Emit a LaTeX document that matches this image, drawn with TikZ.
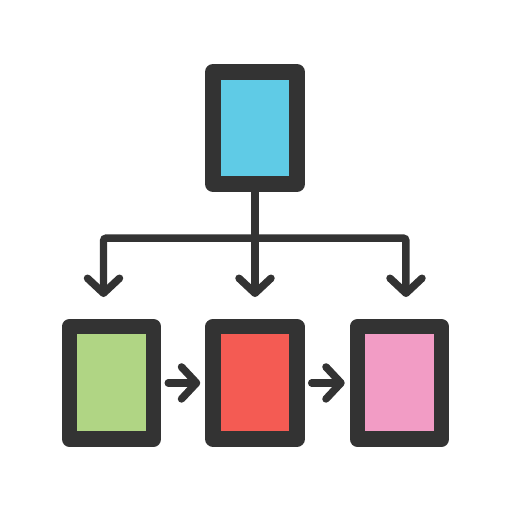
\documentclass[tikz,border=0pt]{standalone}
\usetikzlibrary{positioning,arrows.meta}

\definecolor{framegray}{HTML}{333333}
\definecolor{tileblue}{HTML}{5FCBE6}
\definecolor{tilegreen}{HTML}{B0D584}
\definecolor{tilered}{HTML}{F45B53}
\definecolor{tilepink}{HTML}{F29CC5}

\begin{document}
\begin{tikzpicture}[x=0.02cm,y=-0.02cm]
  \useasboundingbox (0,0) rectangle (512,512);
  \begin{scope}[
    every node/.style={
      rectangle,
      draw=framegray,
      line width=0.31cm,
      line join=round,
      minimum width=1.68cm,
      minimum height=2.25cm,
      inner sep=0pt,
    },
    ]
    % parent
    \node [fill=tileblue] (parent) at (255,128) {};

    % children
    \node [fill=tilered,below=2.54cm of parent] (childB) {};
    \node [fill=tilegreen,left=0.88cm of childB] (childA) {};
    \node [fill=tilepink,right=0.9cm of childB] (childC) {};
  \end{scope}
  \begin{scope}[
    flowline/.style={
      draw=framegray,
      line width=0.15cm,
      line cap=round,
      rounded corners=0.06cm,
      -{Straight Barb[length=0.3cm,width=0.64cm,round]},
    },
    ]
    % fork
    \coordinate (fork) at (255,238);
    \coordinate (dropA) at (103.5,297);
    \coordinate (dropB) at (255,297);
    \coordinate (dropC) at (406,297);
    \draw [flowline] (parent.south) -- (dropB);
    \draw [flowline] (fork) -| (dropA);
    \draw [flowline] (fork) -| (dropC);

    % row
    \draw [flowline,shorten <=0.14cm,shorten >=0.1cm] (childA) -- (childB);
    \draw [flowline,shorten <=0.14cm,shorten >=0.1cm] (childB) -- (childC);
  \end{scope}
\end{tikzpicture}
\end{document}
